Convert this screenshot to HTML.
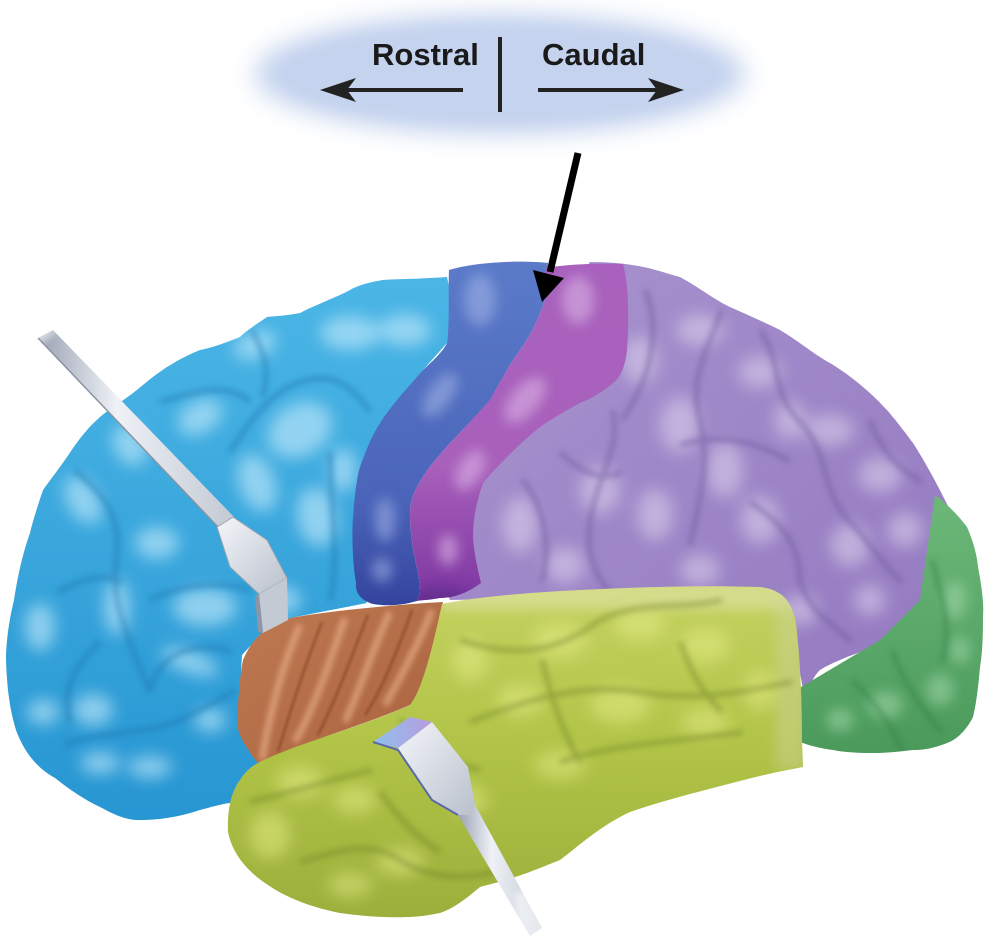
<!DOCTYPE html>
<html><head><meta charset="utf-8"><style>
html,body{margin:0;padding:0;background:#fff;}
svg{display:block;}
text{font-family:"Liberation Sans",Arial,sans-serif;font-weight:bold;}
</style></head><body>
<svg width="988" height="951" viewBox="0 0 988 951" xmlns="http://www.w3.org/2000/svg">
<defs>
<filter id="b14" x="-30%" y="-60%" width="160%" height="220%"><feGaussianBlur stdDeviation="13"/></filter>
<filter id="b8" x="-50%" y="-50%" width="200%" height="200%"><feGaussianBlur stdDeviation="8"/></filter>
<filter id="b6" x="-50%" y="-50%" width="200%" height="200%"><feGaussianBlur stdDeviation="6"/></filter>
<filter id="b3" x="-20%" y="-20%" width="140%" height="140%"><feGaussianBlur stdDeviation="3"/></filter>
<filter id="b1"><feGaussianBlur stdDeviation="1"/></filter>
<linearGradient id="gBlue" x1="0" y1="0" x2="0" y2="1"><stop offset="0" stop-color="#4bb6e6"/><stop offset="1" stop-color="#2796d2"/></linearGradient>
<linearGradient id="gDB" x1="0" y1="0" x2="0" y2="1"><stop offset="0" stop-color="#5b7bc9"/><stop offset="0.7" stop-color="#4a64b9"/><stop offset="1" stop-color="#34449e"/></linearGradient>
<linearGradient id="gMag" x1="0" y1="0" x2="0" y2="1"><stop offset="0" stop-color="#a862bd"/><stop offset="0.6" stop-color="#a860bb"/><stop offset="1" stop-color="#7c36a0"/></linearGradient>
<linearGradient id="gPur" x1="0" y1="0" x2="1" y2="1"><stop offset="0" stop-color="#a894cf"/><stop offset="1" stop-color="#9479c0"/></linearGradient>
<linearGradient id="gGrn" x1="0" y1="0" x2="0" y2="1"><stop offset="0" stop-color="#6cb879"/><stop offset="1" stop-color="#4b9a5c"/></linearGradient>
<linearGradient id="gYel" x1="0" y1="0" x2="0" y2="1"><stop offset="0" stop-color="#c4d260"/><stop offset="0.5" stop-color="#b0c346"/><stop offset="1" stop-color="#9caf3c"/></linearGradient>
<linearGradient id="gBrn" x1="0" y1="0" x2="1" y2="1"><stop offset="0" stop-color="#c07a52"/><stop offset="1" stop-color="#a8623e"/></linearGradient>
<linearGradient id="gMetal" x1="0" y1="0" x2="1" y2="0"><stop offset="0" stop-color="#9aa2b2"/><stop offset="0.4" stop-color="#eef1f6"/><stop offset="1" stop-color="#c3c9d4"/></linearGradient>
<linearGradient id="gMetal2" x1="0" y1="0" x2="1" y2="1"><stop offset="0" stop-color="#f4f6fa"/><stop offset="1" stop-color="#b9c0cc"/></linearGradient>
<linearGradient id="gTop" x1="0" y1="0" x2="1" y2="0"><stop offset="0" stop-color="#8fc0ec"/><stop offset="1" stop-color="#b79ce0"/></linearGradient>
<linearGradient id="gFadeH" x1="0" y1="0" x2="1" y2="1"><stop offset="0" stop-color="#fff" stop-opacity="1"/><stop offset="0.25" stop-color="#fff" stop-opacity="0"/></linearGradient>

<clipPath id="cBlue"><path id="pBlue" d="M447,277 C420,279 395,279 383,280 C365,283 355,287 350,290 C335,298 315,305 300,313 C285,316 275,316 267,317 C255,325 245,332 240,337 C220,345 210,348 200,350 C185,356 175,362 167,367 C150,378 140,388 133,393 C120,403 108,410 100,417 C85,430 75,445 67,457 C58,470 50,480 43,490 C38,505 33,520 30,533 C22,555 17,580 14,600 C8,625 6,645 6,660 C7,690 10,710 16,730 C25,755 40,770 55,778 C70,790 85,800 100,807 C115,815 125,820 140,820 C165,820 185,815 200,810 C215,806 222,804 230,803 L262,768 L238,725 L242,655 L265,630 L290,618 L367,603 L357,583 L353,517 L360,467 L380,423 L423,370 L447,343 L452,300 Z"/></clipPath>
<clipPath id="cDB"><path id="pDB" d="M449,270 C475,262 520,260 548,263 L545,300 C535,330 522,348 513,360 C502,378 494,392 490,400 C472,420 460,433 450,443 C437,458 428,468 423,477 C413,492 410,502 410,515 C410,532 413,545 413,550 C417,568 420,580 420,592 L417,601 C400,606 385,606 373,604 C360,600 355,592 356,583 C352,560 352,532 353,517 C355,492 357,477 360,467 C367,447 374,432 380,423 C393,403 410,385 423,370 C434,360 444,350 447,343 C450,320 448,290 449,270 Z"/></clipPath>
<clipPath id="cMag"><path id="pMag" d="M545,268 C570,264 600,263 623,264 C629,285 629,320 627,350 C625,368 620,378 613,383 C600,394 590,399 580,403 C565,411 550,420 540,427 C525,439 514,450 507,457 C495,469 488,477 483,483 C476,503 473,520 473,537 C474,555 478,570 481,583 C466,594 452,598 440,598 C430,600 422,600 417,601 L420,592 C420,580 417,568 413,550 C413,545 410,532 410,515 C410,502 413,492 423,477 C428,468 437,458 450,443 C460,433 472,420 490,400 C494,392 502,378 513,360 C522,348 535,330 545,300 Z"/></clipPath>
<clipPath id="cPur"><path id="pPur" d="M590,262 C640,262 660,272 680,277 C700,288 715,300 730,307 C755,318 770,325 780,330 C800,342 815,355 830,363 C848,374 857,382 863,387 C875,397 882,405 887,410 C899,424 907,435 913,443 C922,457 928,468 933,477 C940,490 945,500 950,510 C946,524 942,534 940,543 C936,560 932,572 930,583 C923,598 918,608 913,617 C902,630 891,638 880,643 C866,650 855,654 847,657 C835,662 826,666 820,670 C812,678 808,688 806,705 L790,620 L700,595 L450,600 L430,560 L470,420 L560,300 Z"/></clipPath>
<clipPath id="cGrn"><path id="pGrn" d="M935,495 C948,505 958,515 967,527 C974,543 977,556 978,567 C982,588 984,604 983,617 C983,640 982,655 980,667 C978,690 976,705 973,717 C966,731 956,740 947,743 C932,749 922,750 913,750 C896,752 885,753 873,753 C856,753 843,752 833,750 C818,748 808,745 800,742 L796,690 L880,640 L920,600 Z"/></clipPath>
<clipPath id="cYel"><path id="pYel" d="M442,604 C470,598 520,593 580,590 C640,587 700,585 760,587 C786,590 795,606 797,633 C800,660 802,700 802,740 L803,767 C782,771 762,775 740,781 C705,790 665,800 630,812 C600,826 580,845 560,860 C545,866 535,870 527,873 C518,876 512,878 507,880 C495,883 487,885 480,887 C468,897 455,908 440,913 C425,916 415,917 407,917 C385,918 362,916 340,913 C310,907 285,897 268,885 C245,870 232,852 228,832 C227,808 232,790 240,780 C245,772 250,768 256,764 C275,754 300,745 330,735 C360,725 388,715 410,705 C422,690 432,650 442,604 Z"/></clipPath>
<clipPath id="cBrn"><path id="pBrn" d="M265,630 L290,618 C330,611 390,605 443,602 C438,630 432,660 425,680 C420,692 416,700 410,705 C385,716 358,725 330,735 C305,744 282,754 262,768 L253,757 C245,745 238,735 237,723 C238,700 240,675 243,660 C248,648 255,638 265,630 Z"/></clipPath>
</defs>

<!-- top label ellipse -->
<ellipse cx="500" cy="74" rx="245" ry="60" fill="#c3d2ee" filter="url(#b14)"/>
<ellipse cx="500" cy="74" rx="215" ry="46" fill="#c5d3ee" filter="url(#b8)"/>
<text x="372" y="65" font-size="31" fill="#1a1a1a">Rostral</text>
<text x="542" y="65" font-size="31" fill="#1a1a1a">Caudal</text>
<rect x="498" y="37" width="4" height="75" fill="#222"/>
<line x1="463" y1="90" x2="338" y2="90" stroke="#222" stroke-width="4"/>
<polygon points="320,90 356,78 347,90 356,102" fill="#222"/>
<line x1="538" y1="90" x2="665" y2="90" stroke="#222" stroke-width="4"/>
<polygon points="684,90 648,78 657,90 648,102" fill="#222"/>

<!-- purple parietal -->
<use href="#pPur" fill="url(#gPur)"/>
<g clip-path="url(#cPur)">
 <g fill="#e4dcf2" opacity="0.5" filter="url(#b8)">
  <ellipse cx="700" cy="330" rx="24" ry="16"/><ellipse cx="760" cy="372" rx="22" ry="16"/>
  <ellipse cx="680" cy="425" rx="20" ry="28"/><ellipse cx="725" cy="470" rx="18" ry="28"/>
  <ellipse cx="830" cy="430" rx="24" ry="16"/><ellipse cx="880" cy="475" rx="22" ry="18"/>
  <ellipse cx="655" cy="515" rx="18" ry="26"/><ellipse cx="760" cy="520" rx="20" ry="24"/>
  <ellipse cx="850" cy="545" rx="20" ry="22"/><ellipse cx="600" cy="490" rx="20" ry="24"/>
  <ellipse cx="520" cy="525" rx="18" ry="28"/><ellipse cx="565" cy="565" rx="20" ry="18"/>
  <ellipse cx="700" cy="570" rx="20" ry="16"/><ellipse cx="905" cy="530" rx="18" ry="18"/>
  <ellipse cx="640" cy="360" rx="18" ry="24"/><ellipse cx="790" cy="420" rx="16" ry="20"/>
  <ellipse cx="800" cy="610" rx="18" ry="16"/><ellipse cx="870" cy="600" rx="16" ry="16"/>
 </g>
 <g fill="none" stroke="#6f5a9c" stroke-width="5" opacity="0.5" filter="url(#b3)">
  <path d="M645,290 C662,330 650,380 622,420"/>
  <path d="M722,310 C702,360 690,382 700,420 C710,460 700,500 690,545"/>
  <path d="M612,410 C622,440 602,470 592,510 C582,560 600,580 612,595"/>
  <path d="M760,330 C782,360 770,392 800,422 C830,452 820,492 850,522 C870,542 880,562 902,582"/>
  <path d="M680,445 C720,432 760,442 790,462"/>
  <path d="M750,502 C780,522 800,542 800,582 C810,612 830,622 852,642"/>
  <path d="M870,420 C880,450 900,470 922,482"/>
  <path d="M522,480 C542,502 552,540 542,582"/>
  <path d="M560,452 C580,472 600,482 622,472"/>
 </g>
</g>

<!-- green occipital -->
<use href="#pGrn" fill="url(#gGrn)"/>
<g clip-path="url(#cGrn)">
 <g fill="#a8dcae" opacity="0.5" filter="url(#b6)">
  <ellipse cx="955" cy="600" rx="12" ry="20"/><ellipse cx="885" cy="705" rx="18" ry="14"/>
  <ellipse cx="940" cy="690" rx="14" ry="16"/><ellipse cx="960" cy="650" rx="10" ry="14"/>
  <ellipse cx="840" cy="720" rx="14" ry="12"/>
 </g>
 <g fill="none" stroke="#2f7a42" stroke-width="4" opacity="0.5" filter="url(#b3)">
  <path d="M932,560 C942,600 952,630 942,662"/>
  <path d="M852,680 C872,700 892,722 902,752"/>
  <path d="M892,650 C902,680 922,710 942,732"/>
 </g>
</g>

<!-- blue frontal -->
<use href="#pBlue" fill="url(#gBlue)"/>
<g clip-path="url(#cBlue)">
 <g fill="#bfe8fb" opacity="0.65" filter="url(#b8)">
  <ellipse cx="300" cy="430" rx="34" ry="26" transform="rotate(-30 300 430)"/>
  <ellipse cx="257" cy="483" rx="18" ry="30" transform="rotate(-20 257 483)"/>
  <ellipse cx="200" cy="417" rx="24" ry="16" transform="rotate(-30 200 417)"/>
  <ellipse cx="350" cy="333" rx="30" ry="17"/><ellipse cx="405" cy="330" rx="26" ry="16"/>
  <ellipse cx="157" cy="543" rx="22" ry="16"/>
  <ellipse cx="83" cy="500" rx="16" ry="26" transform="rotate(-30 83 500)"/>
  <ellipse cx="283" cy="600" rx="18" ry="14"/>
  <ellipse cx="317" cy="517" rx="20" ry="30" transform="rotate(-10 317 517)"/>
  <ellipse cx="343" cy="470" rx="14" ry="22"/>
  <ellipse cx="40" cy="627" rx="15" ry="24"/><ellipse cx="117" cy="607" rx="13" ry="28"/>
  <ellipse cx="205" cy="607" rx="32" ry="19"/>
  <ellipse cx="190" cy="662" rx="30" ry="11" transform="rotate(20 190 662)"/>
  <ellipse cx="93" cy="710" rx="20" ry="16"/><ellipse cx="43" cy="712" rx="16" ry="13"/>
  <ellipse cx="100" cy="763" rx="20" ry="11"/><ellipse cx="150" cy="767" rx="22" ry="11"/>
  <ellipse cx="255" cy="345" rx="22" ry="13" transform="rotate(-20 255 345)"/>
  <ellipse cx="130" cy="445" rx="16" ry="22" transform="rotate(-30 130 445)"/>
  <ellipse cx="210" cy="720" rx="16" ry="12"/>
 </g>
 <g fill="none" stroke="#1a72ab" stroke-width="5" opacity="0.45" filter="url(#b3)">
  <path d="M58,592 C80,580 100,572 122,582"/>
  <path d="M75,470 C110,500 122,522 116,562 C110,602 130,642 150,692"/>
  <path d="M160,402 C200,390 230,382 250,402"/>
  <path d="M230,452 C250,420 270,392 300,382 C330,372 350,382 370,412"/>
  <path d="M100,642 C80,662 60,682 70,722"/>
  <path d="M65,745 C100,730 150,735 180,720 C200,710 220,700 235,690"/>
  <path d="M150,690 C160,650 200,640 232,652"/>
  <path d="M330,452 C330,502 340,560 330,600"/>
  <path d="M252,330 C262,350 272,370 262,397"/>
  <path d="M150,600 C180,585 220,580 250,590"/>
 </g>
</g>

<!-- dark blue precentral -->
<use href="#pDB" fill="url(#gDB)"/>
<g clip-path="url(#cDB)">
 <g fill="#9fb1e4" opacity="0.6" filter="url(#b6)">
  <ellipse cx="480" cy="300" rx="16" ry="26"/>
  <ellipse cx="440" cy="395" rx="12" ry="26" transform="rotate(35 440 395)"/>
  <ellipse cx="385" cy="520" rx="10" ry="22"/><ellipse cx="382" cy="570" rx="10" ry="12"/>
 </g>
</g>

<!-- magenta postcentral -->
<use href="#pMag" fill="url(#gMag)"/>
<g clip-path="url(#cMag)">
 <g fill="#dcb4e6" opacity="0.6" filter="url(#b6)">
  <ellipse cx="578" cy="300" rx="16" ry="24"/>
  <ellipse cx="525" cy="400" rx="14" ry="28" transform="rotate(40 525 400)"/>
  <ellipse cx="470" cy="470" rx="12" ry="22" transform="rotate(30 470 470)"/>
  <ellipse cx="448" cy="550" rx="10" ry="16"/>
 </g>
 <ellipse cx="440" cy="600" rx="30" ry="14" fill="#5a2a8a" opacity="0.6" filter="url(#b6)"/>
</g>

<!-- brown -->
<use href="#pBrn" fill="url(#gBrn)"/>
<g clip-path="url(#cBrn)">
 <g fill="none" stroke="#f0b894" stroke-width="7" opacity="0.6" filter="url(#b3)">
  <path d="M300,625 C285,660 272,700 262,760"/>
  <path d="M345,618 C330,660 318,700 295,742"/>
  <path d="M390,612 C372,650 360,690 345,722"/>
  <path d="M432,610 C420,640 405,670 385,705"/>
 </g>
 <g fill="none" stroke="#7e3f24" stroke-width="3" opacity="0.5" filter="url(#b1)">
  <path d="M322,622 C305,665 292,705 278,752"/>
  <path d="M368,615 C352,655 338,695 318,735"/>
  <path d="M412,610 C398,650 382,690 365,715"/>
 </g>
</g>

<!-- yellow temporal -->
<use href="#pYel" fill="url(#gYel)"/>
<g clip-path="url(#cYel)">
 <rect x="440" y="580" width="370" height="30" fill="#e6e6b8" opacity="0.5" filter="url(#b6)"/>
 <rect x="775" y="590" width="30" height="180" fill="#d0d4a0" opacity="0.45" filter="url(#b6)"/>
 <g fill="#e4ec86" opacity="0.55" filter="url(#b8)">
  <ellipse cx="560" cy="640" rx="28" ry="18"/><ellipse cx="640" cy="625" rx="26" ry="16"/>
  <ellipse cx="705" cy="645" rx="24" ry="18"/><ellipse cx="520" cy="700" rx="24" ry="16"/>
  <ellipse cx="620" cy="705" rx="30" ry="18"/><ellipse cx="705" cy="722" rx="24" ry="14"/>
  <ellipse cx="300" cy="782" rx="24" ry="16"/><ellipse cx="355" cy="800" rx="22" ry="14"/>
  <ellipse cx="270" cy="835" rx="20" ry="24"/><ellipse cx="400" cy="862" rx="24" ry="14"/>
  <ellipse cx="350" cy="885" rx="22" ry="12"/><ellipse cx="560" cy="765" rx="26" ry="14"/>
  <ellipse cx="470" cy="660" rx="18" ry="22"/><ellipse cx="760" cy="690" rx="16" ry="20"/>
  <ellipse cx="470" cy="800" rx="18" ry="14"/>
 </g>
 <g fill="none" stroke="#6e7f28" stroke-width="5" opacity="0.45" filter="url(#b3)">
  <path d="M460,640 C520,660 560,650 600,620 C640,600 680,610 722,600"/>
  <path d="M470,722 C520,702 580,682 640,692 C700,702 740,692 792,682"/>
  <path d="M560,762 C620,742 680,742 742,732"/>
  <path d="M250,802 C300,790 330,780 372,770"/>
  <path d="M300,862 C340,850 370,840 400,860 C430,880 470,880 502,870"/>
  <path d="M542,660 C552,700 562,730 580,762"/>
  <path d="M680,642 C690,670 700,690 722,712"/>
  <path d="M380,792 C400,820 420,840 440,852"/>
  <path d="M400,720 C420,740 440,760 480,770"/>
 </g>
</g>

<!-- upper spatula -->
<polygon points="38,338 53,330 235,518 219,528" fill="url(#gMetal)"/>
<polygon points="38,338 53,330 90,368 75,378" fill="url(#gFadeH)"/>
<line x1="38" y1="338" x2="219" y2="528" stroke="#8a92a2" stroke-width="1.5"/>
<polygon points="217,527 233,517 267,540 287,578 259,594 230,567" fill="url(#gMetal2)" stroke="#9aa2b0" stroke-width="1"/>
<polygon points="259,594 287,578 288,620 263,633" fill="#c4cad4"/>
<polygon points="259,594 263,633 258,632 255,596" fill="#8e96a6"/>

<!-- lower spatula -->
<polygon points="458,815 475,805 542,928 530,936" fill="url(#gMetal)"/>
<polygon points="398,748 432,722 468,767 475,804 470,815 458,815 432,800" fill="url(#gMetal2)"/>
<polygon points="373,742 410,717 432,722 398,748" fill="url(#gTop)"/>
<polyline points="373,742 398,750 432,800 458,815" fill="none" stroke="#5a6aa6" stroke-width="2"/>
<polygon points="515,895 545,880 560,940 520,945" fill="#fff" opacity="0.55" filter="url(#b3)"/>

<!-- pointer arrow -->
<line x1="578" y1="153" x2="550" y2="272" stroke="#000" stroke-width="7"/>
<polygon points="542,302 533,270 564,278" fill="#000"/>
</svg>
</body></html>
